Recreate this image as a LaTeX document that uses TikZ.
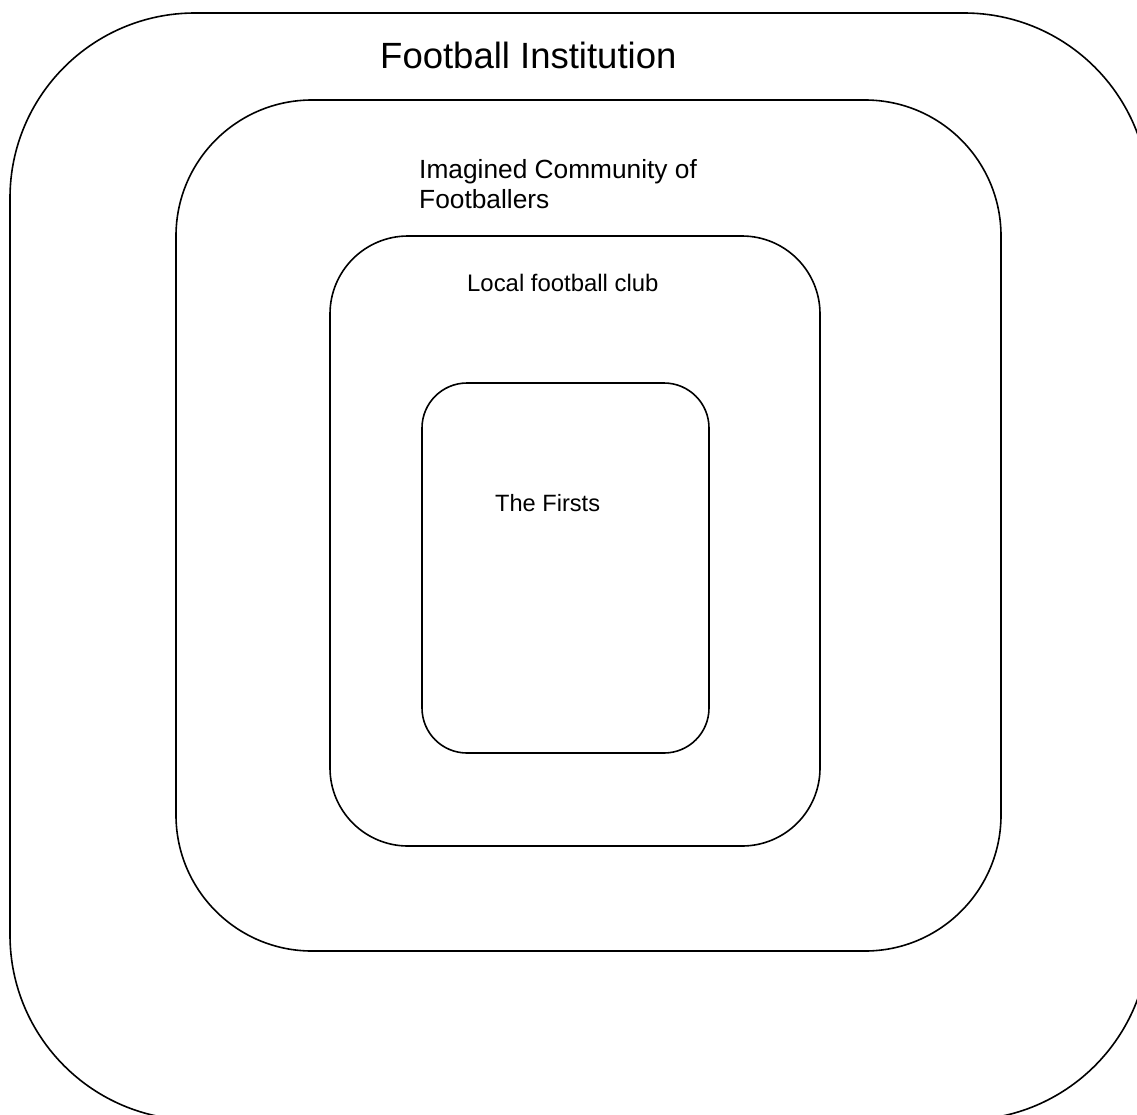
\documentclass[tikz,border=0pt]{standalone}
\usepackage{fontspec}
\setmainfont{Liberation Sans}
\begin{document}
\begin{tikzpicture}[x=1pt,y=-1pt,
  ring/.style={draw=black,line width=1.6pt},
  lbl/.style={inner sep=0pt,anchor=west,text=black}]
\useasboundingbox (0,0) rectangle (1137,1114);
\begin{scope}
\clip (0,0) rectangle (1137,1114);
\draw[ring,rounded corners=185pt] (10,13) rectangle (1149,1120);
\end{scope}
\draw[ring,rounded corners=136pt] (176,100) rectangle (1001,951);
\draw[ring,rounded corners=78pt] (330,236) rectangle (820,846);
\draw[ring,rounded corners=45pt] (422,383) rectangle (709,753);
\node[lbl,font=\fontsize{36.5pt}{42pt}\selectfont] (inst) at (380,55) {Football Institution};
\node[lbl,anchor=north west,align=left,font=\fontsize{26.3pt}{30pt}\selectfont] (comm) at (419,159) {Imagined Community of\\Footballers};
\node[lbl,font=\fontsize{23.9pt}{28pt}\selectfont] (club) at (467,283) {Local football club};
\node[lbl,font=\fontsize{23.6pt}{28pt}\selectfont] (firsts) at (495,503) {The Firsts};
\end{tikzpicture}
\end{document}
